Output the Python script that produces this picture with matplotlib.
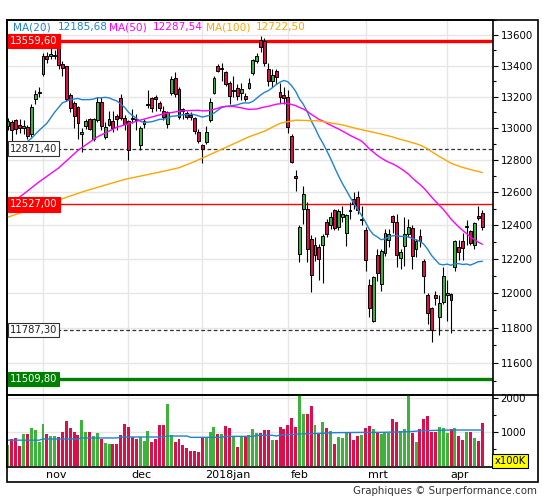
import numpy as np
import pandas as pd
import matplotlib
matplotlib.use("Agg")
import matplotlib.pyplot as plt
import matplotlib.transforms as mtransforms
from matplotlib.lines import Line2D
from matplotlib.patches import Rectangle
from matplotlib.ticker import FixedLocator, NullFormatter, FuncFormatter

W, H = 545, 500

# daily candles, 18 oct 2017 .. 16 apr 2018 (index = trading day)
opens = [13010, 13040, 13050, 13020, 13000, 13005, 12960, 13185, 13225, 13345,
         13460, 13465, 13460, 13520, 13410, 13395, 13210, 13160, 13135, 12960,
         13010, 13055, 12930, 13050, 13165, 12945, 13020, 13045, 13075, 13190,
         13065, 13045, 13065, 13060, 12895, 13025, 13145, 13190, 13200, 13160,
         13105, 13025, 13220, 13320, 13250, 13118, 13095, 13085, 13065, 12975,
         12895, 12915, 13050, 13225, 13400, 13380, 13360, 13290, 13235, 13255,
         13225, 13205, 13255, 13355, 13430, 13568, 13560, 13380, 13300, 13365,
         13230, 13210, 13200, 12950, 12700, 12230, 12500, 12500, 12320, 12225,
         12270, 12280, 12420, 12400, 12490, 12390, 12450, 12355, 12490, 12560,
         12575, 12430, 12375, 12045, 11840, 12225, 12050, 12235, 12310, 12455,
         12420, 12205, 12275, 12350, 12385, 12260, 12335, 12185, 11990, 11910,
         11990, 11860, 11945, 11990, 11995, 12150, 12270, 12305, 12390, 12365,
         12280, 12455, 12475]
highs = [13065, 13050, 13060, 13060, 13050, 13020, 13150, 13240, 13260, 13480,
         13490, 13525, 13500, 13525, 13430, 13400, 13220, 13170, 13140, 13000,
         13060, 13065, 13065, 13200, 13200, 13040, 13105, 13105, 13090, 13215,
         13080, 13050, 13120, 13090, 13010, 13060, 13240, 13195, 13210, 13170,
         13140, 13110, 13335, 13360, 13260, 13130, 13105, 13100, 13070, 12995,
         12900, 13010, 13190, 13330, 13410, 13420, 13365, 13300, 13330, 13280,
         13285, 13225, 13320, 13440, 13480, 13597, 13580, 13420, 13380, 13380,
         13290, 13260, 13240, 12960, 12740, 12400, 12640, 12540, 12340, 12330,
         12290, 12350, 12440, 12480, 12500, 12500, 12520, 12470, 12540, 12600,
         12610, 12520, 12390, 12080, 12100, 12260, 12260, 12380, 12380, 12460,
         12470, 12260, 12450, 12440, 12400, 12320, 12380, 12200, 12000, 11920,
         12010, 11990, 12150, 12075, 12000, 12310, 12310, 12355, 12430, 12375,
         12420, 12520, 12490]
lows = [12985, 12920, 12960, 12970, 12960, 12930, 12945, 13150, 13200, 13330,
        13420, 13440, 13440, 13380, 13330, 13170, 13100, 13000, 12930, 12850,
        12995, 12985, 12920, 13040, 12985, 12930, 13010, 12975, 12990, 13050,
        12990, 12800, 13030, 12990, 12865, 13000, 13130, 13100, 13110, 13110,
        13050, 13000, 13210, 13200, 13060, 13060, 13060, 13050, 12960, 12905,
        12780, 12900, 13040, 13215, 13360, 13300, 13270, 13150, 13200, 13180,
        13180, 13170, 13250, 13340, 13420, 13490, 13400, 13270, 13260, 13280,
        13160, 13150, 12970, 12780, 12610, 12180, 12410, 12180, 12003, 12190,
        12075, 12060, 12330, 12380, 12370, 12370, 12420, 12275, 12440, 12500,
        12470, 12400, 12130, 11860, 11830, 12070, 12010, 12220, 12270, 12355,
        12150, 12140, 12160, 12330, 12140, 12210, 12270, 12000, 11820, 11715,
        11930, 11760, 11935, 11840, 11770, 12130, 12195, 12195, 12285, 12280,
        12260, 12435, 12370]
closes = [13043, 12990, 12991, 13003, 13013, 12953, 13133, 13217, 13229, 13465,
          13441, 13479, 13469, 13406, 13382, 13183, 13127, 13074, 13033, 12976,
          13047, 12994, 13059, 13168, 13015, 13009, 13060, 13000, 13060, 13062,
          13024, 12861, 13058, 13049, 12999, 13045, 13154, 13124, 13184, 13126,
          13068, 13104, 13312, 13216, 13069, 13110, 13073, 13070, 12980, 12918,
          12871, 12978, 13168, 13320, 13368, 13386, 13281, 13203, 13245, 13201,
          13246, 13184, 13290, 13434, 13464, 13520, 13415, 13298, 13340, 13324,
          13198, 13189, 13004, 12785, 12687, 12393, 12590, 12260, 12107, 12283,
          12197, 12339, 12346, 12452, 12386, 12488, 12470, 12462, 12484, 12527,
          12491, 12436, 12191, 11914, 12091, 12114, 12245, 12356, 12347, 12418,
          12221, 12238, 12346, 12390, 12217, 12306, 12307, 12100, 11886, 11787,
          11971, 11941, 12097, 12002, 11958, 12305, 12241, 12262, 12397, 12294,
          12415, 12442, 12391]
# volume in units of 100K
volumes = [617, 784, 823, 588, 941, 941, 1107, 1058, 715, 1235,
           941, 882, 882, 843, 1000, 1323, 1117, 1000, 911, 1352,
           1000, 1000, 882, 970, 794, 676, 647, 647, 647, 911,
           1235, 1137, 843, 794, 843, 735, 1029, 715, 784, 1205,
           1205, 1823, 911, 715, 794, 617, 529, 441, 441, 412,
           843, 843, 1000, 1137, 941, 941, 1176, 1107, 843, 568,
           843, 892, 911, 1088, 980, 980, 1058, 1058, 764, 764,
           1137, 1078, 1205, 1401, 1137, 2300, 1529, 1529, 1764, 1205,
           941, 1294, 1107, 1029, 647, 843, 813, 1009, 960, 764,
           882, 911, 1107, 1176, 1078, 980, 931, 1009, 960, 1382,
           1294, 1029, 1078, 2300, 980, 715, 1078, 1372, 1470, 1009,
           1009, 1137, 1107, 960, 1078, 1107, 882, 764, 1009, 1009,
           813, 735, 1274]

month_idx = [9, 31, 50, 72, 92, 113]
month_labels = ["nov", "dec", "2018jan", "feb", "mrt", "apr"]

# moving averages before enough closes are on the chart
ma20_head_idx = [4, 6, 8, 10, 12, 14, 16, 18]
ma20_head = [12895, 12935, 12985, 13030, 13100, 13160, 13180, 13188]
ma50_head_idx = [0, 4, 8, 13, 18, 23, 28, 34, 40, 45]
ma50_head = [12520, 12590, 12665, 12750, 12860, 12945, 13005, 13050, 13090, 13110]
ma100_head_idx = [0, 10, 20, 30, 40, 44, 48, 53, 58, 62, 66, 70, 74, 80, 86, 90, 95]
ma100_head = [12450, 12530, 12610, 12680, 12730, 12752, 12790, 12845, 12900, 12945,
              12980, 13030, 13050, 13045, 13020, 12995, 12968]

vol_ma_idx = [0, 8, 9, 18, 19, 28, 29, 40, 41, 46, 47, 55, 56, 63, 64, 68, 69,
              70, 75, 80, 84, 92, 96, 103, 107, 113, 122]
vol_ma = [760, 760, 795, 795, 825, 825, 853, 853, 882, 882, 843, 843, 872, 872,
          902, 905, 882, 911, 941, 960, 980, 990, 990, 1009, 1039, 1058, 1058]

ma_names = ["MA(20)", "MA(50)", "MA(100)"]
ma_values = ["12185,68", "12287,54", "12722,50"]

levels = [13559.60, 12871.40, 12527.00, 11787.30, 11509.80]
level_labels = ["13559,60", "12871,40", "12527,00", "11787,30", "11509,80"]

price_ticks = list(range(11600, 13601, 200))
price_minor = list(range(11500, 13701, 100))
vol_ticks = [1000, 2000]
vol_minor = [500, 1500]

GREEN = "#3cb43c"
RED = "#dc0f4b"
BLUE = "#1e82d2"
MAGENTA = "#ff00ff"
ORANGE = "#ffa500"
GRID = "#e6e6e6"


def fx(px):
    return px / W


def fy(py):
    return 1 - py / H


fig = plt.figure(figsize=(W / 100, H / 100), dpi=100)
ax = fig.add_axes([fx(7), fy(395), (493 - 7) / W, (395 - 20) / H])
axv = fig.add_axes([fx(7), fy(467), (493 - 7) / W, (467 - 395) / H], sharex=ax)

n = len(closes)
x = np.arange(n)
o = np.array(opens, float)
h = np.array(highs, float)
l = np.array(lows, float)
c = np.array(closes, float)
up = c >= o
colors = np.where(up, GREEN, RED)

ax.set_yscale("log")
ax.set_xlim(-0.26, 124.8)
ax.set_ylim(11420, 13700)

# candles
ax.vlines(x, l, h, color="black", lw=0.8, zorder=3)
body_bottom = np.minimum(o, c)
body_h = np.maximum(np.abs(c - o), 3)
ax.bar(x, body_h, width=0.74, bottom=body_bottom, color=colors,
       edgecolor="black", linewidth=0.7, zorder=4)

# moving averages
cs = pd.Series(closes, dtype=float)
for win, hidx, hval, col in [(20, ma20_head_idx, ma20_head, BLUE),
                             (50, ma50_head_idx, ma50_head, MAGENTA),
                             (100, ma100_head_idx, ma100_head, ORANGE)]:
    ma = cs.rolling(win).mean()
    xs = list(hidx) + list(range(win - 1, n))
    ys = list(hval) + list(ma.values[win - 1:])
    ax.plot(xs, ys, color=col, lw=1.0, zorder=5)

# horizontal levels
level_style = [
    dict(color="#ff0000", lw=2.4, ls="-"),
    dict(color="#333333", lw=0.9, ls=(0, (3, 2))),
    dict(color="#ff0000", lw=1.0, ls="-"),
    dict(color="#333333", lw=0.9, ls=(0, (3, 2))),
    dict(color="#008000", lw=2.4, ls="-"),
]
box_style = [
    ("#ff0000", "#ff0000", "white"),
    ("white", "#333333", "#222222"),
    ("#ff0000", "#ff0000", "white"),
    ("white", "#333333", "#222222"),
    ("#008000", "#008000", "white"),
]
trans = mtransforms.blended_transform_factory(ax.transAxes, ax.transData)
for lvl, lab, st, (fc, ec, tc) in zip(levels, level_labels, level_style, box_style):
    ax.axhline(lvl, zorder=2, **st)
    ax.text(0.006, lvl, lab, transform=trans, ha="left", va="center",
            fontsize=7.2, color=tc, zorder=8,
            bbox=dict(boxstyle="square,pad=0.22", fc=fc, ec=ec, lw=0.8))

# price axis on the right
ax.yaxis.tick_right()
ax.yaxis.set_major_locator(FixedLocator(price_ticks))
ax.yaxis.set_minor_locator(FixedLocator(price_minor))
ax.yaxis.set_major_formatter(FuncFormatter(lambda v, p: "%d" % round(v)))
ax.yaxis.set_minor_formatter(NullFormatter())
ax.tick_params(axis="y", which="major", length=3.5, width=0.8, labelsize=7.4, pad=2)
ax.tick_params(axis="y", which="minor", length=2, width=0.8)
ax.tick_params(axis="x", length=0, labelbottom=False)
ax.set_xticks(month_idx)
ax.grid(True, which="major", color=GRID, lw=1.0, zorder=0)
ax.set_axisbelow(True)

# volume
axv.bar(x, volumes, width=0.76, color=colors, zorder=3)
axv.plot(vol_ma_idx, vol_ma, color=BLUE, lw=1.0, zorder=4)
axv.set_ylim(-29, 2088)
axv.yaxis.tick_right()
axv.yaxis.set_major_locator(FixedLocator(vol_ticks))
axv.yaxis.set_minor_locator(FixedLocator(vol_minor))
axv.yaxis.set_minor_formatter(NullFormatter())
axv.tick_params(axis="y", which="major", length=3.5, width=0.8, labelsize=7.4, pad=2)
axv.tick_params(axis="y", which="minor", length=2, width=0.8)
axv.grid(True, which="major", color=GRID, lw=1.0, zorder=0)
axv.set_axisbelow(True)
axv.set_xticks(month_idx)
axv.set_xticklabels(month_labels, ha="left")
axv.tick_params(axis="x", length=0, pad=2, labelsize=8)
offset = mtransforms.ScaledTranslation(2 / 72, 0, fig.dpi_scale_trans)
for lab in axv.get_xticklabels():
    lab.set_transform(lab.get_transform() + offset)
axv.text(1.003, 0.085, "x100K", transform=axv.transAxes, ha="left", va="center",
         fontsize=7.2, color="black", zorder=8,
         bbox=dict(boxstyle="square,pad=0.2", fc="#ffff00", ec="black", lw=0.8))

for a in (ax, axv):
    for sp in a.spines.values():
        sp.set_color("black")
        sp.set_linewidth(1.2)

# outer frame and separators
fig.patches.append(Rectangle((fx(7), fy(482)), (538 - 7) / W, (482 - 20) / H,
                             transform=fig.transFigure, fill=False, ec="black", lw=1.2))
fig.lines.append(Line2D([fx(7), fx(538)], [fy(395), fy(395)],
                        transform=fig.transFigure, color="black", lw=1.2))

# legend on top
legend_x = [13, 58, 109, 153, 206, 256]
legend_col = [BLUE, BLUE, MAGENTA, MAGENTA, ORANGE, ORANGE]
legend_txt = [ma_names[0], ma_values[0], ma_names[1], ma_values[1], ma_names[2], ma_values[2]]
for lx, col, t in zip(legend_x, legend_col, legend_txt):
    fig.text(fx(lx), fy(27), t, color=col, fontsize=7.6, ha="left", va="center")

fig.text(fx(537), fy(491), "Graphiques \u00a9 Surperformance.com", ha="right",
         va="center", fontsize=7.4, color="#333333")

fig.savefig("out.png", dpi=100)
